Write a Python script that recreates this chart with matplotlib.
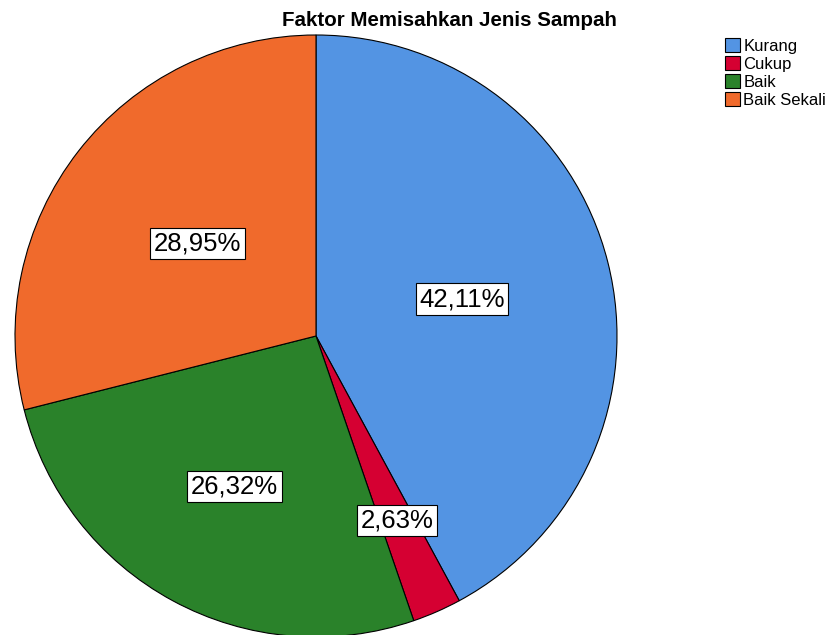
import numpy as np
import matplotlib.pyplot as plt

labels = ["Kurang", "Cukup", "Baik", "Baik Sekali"]
values = [42.11, 2.63, 26.32, 28.95]
colors = ["#5394E3", "#D50032", "#2A822A", "#F06A2C"]
label_dist = [0.5, 0.67, 0.57, 0.5]

fig = plt.figure(figsize=(8.38, 6.35), dpi=100)
ax = fig.add_axes([15 / 838, -2 / 635, 602 / 838, 602 / 635])

wedges, _ = ax.pie(values, colors=colors, startangle=90, counterclock=False,
                   wedgeprops=dict(edgecolor="black", linewidth=0.8))

for w, v, d in zip(wedges, values, label_dist):
    ang = np.deg2rad((w.theta1 + w.theta2) / 2)
    ax.text(d * np.cos(ang), d * np.sin(ang), f"{v:.2f}%".replace(".", ","),
            ha="center", va="center", fontsize=18.5, family="Liberation Sans",
            bbox=dict(facecolor="white", edgecolor="black", linewidth=0.8, pad=2.5))

ax.set_xlim(-1, 1)
ax.set_ylim(-1, 1)
ax.set_aspect("equal")
ax.axis("off")

fig.text(449 / 838, 1 - 20 / 635, "Faktor Memisahkan Jenis Sampah", ha="center", va="center",
         fontsize=14.8, fontweight="bold", family="Liberation Sans")

leg = fig.legend(wedges, labels, loc="upper left", bbox_to_anchor=(725 / 838, 1 - 38 / 635),
                 frameon=False, prop=dict(family="Liberation Sans", size=12),
                 handlelength=0.9, handleheight=0.9, handletextpad=0.2, labelspacing=0.15,
                 borderaxespad=0, borderpad=0)

fig.savefig("out.png", dpi=100)
